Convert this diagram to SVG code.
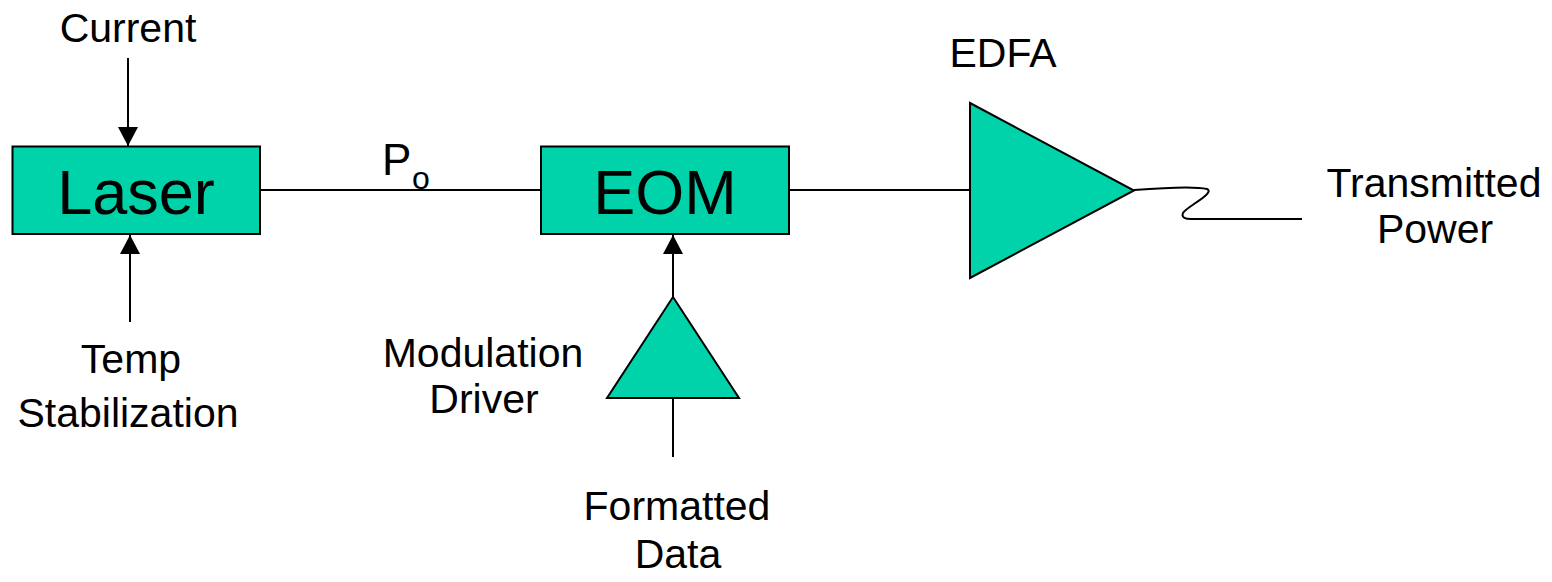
<svg xmlns="http://www.w3.org/2000/svg" width="1552" height="582" viewBox="0 0 1552 582">
  <style>
    .box { fill: #00D2AA; stroke: #000; stroke-width: 2; }
    .wire { fill: none; stroke: #000; stroke-width: 2; }
    .lbl { font-family: "Liberation Sans", Arial, sans-serif; font-size: 41px; fill: #000; text-anchor: middle; }
    .big { font-family: "Liberation Sans", Arial, sans-serif; font-size: 63px; fill: #000; text-anchor: middle; }
  </style>
  <defs>
    <marker id="arrow" markerUnits="userSpaceOnUse" markerWidth="20" markerHeight="20" refX="19" refY="10" orient="auto">
      <path d="M0,0 L19,10 L0,20 Z" fill="#000"/>
    </marker>
  </defs>

  <rect width="1552" height="582" fill="#fff"/>

  <!-- connectors -->
  <g id="connectors">
    <line class="wire" x1="128" y1="58" x2="128" y2="146" marker-end="url(#arrow)"/>
    <line class="wire" x1="130" y1="322" x2="130" y2="235" marker-end="url(#arrow)"/>
    <line class="wire" x1="260" y1="190" x2="541" y2="190"/>
    <line class="wire" x1="789" y1="190" x2="970" y2="190"/>
    <line class="wire" x1="673" y1="297" x2="673" y2="235" marker-end="url(#arrow)"/>
    <line class="wire" x1="673" y1="398" x2="673" y2="457"/>
    <path class="wire" d="M1134,190 C1160,188 1195,186 1207,189 C1216,193 1186,207 1183,213 C1181,218 1186,219 1191,219 L1302,219"/>
  </g>

  <!-- laser source -->
  <g id="laser">
    <rect class="box" x="12.5" y="146.5" width="247.5" height="87.5"/>
    <text class="big" x="136" y="214">Laser</text>
  </g>

  <!-- electro-optic modulator -->
  <g id="eom">
    <rect class="box" x="541" y="146.5" width="248" height="87.5"/>
    <text class="big" x="665" y="214">EOM</text>
  </g>

  <!-- modulation driver amplifier -->
  <g id="driver">
    <polygon class="box" points="673,297 739,398 607,398"/>
  </g>

  <!-- erbium-doped fiber amplifier -->
  <g id="edfa">
    <polygon class="box" points="970,103 1134,190.5 970,278"/>
    <text class="lbl" x="1003" y="67">EDFA</text>
  </g>

  <!-- labels -->
  <g id="label-current"><text class="lbl" x="128" y="42">Current</text></g>
  <g id="label-temp">
    <text class="lbl" x="131" y="373">Temp</text>
    <text class="lbl" x="128" y="427">Stabilization</text>
  </g>
  <g id="label-po">
    <text font-family="Liberation Sans, Arial, sans-serif" font-size="44" x="382" y="175">P</text>
    <text font-family="Liberation Sans, Arial, sans-serif" font-size="32" x="412" y="189">o</text>
  </g>
  <g id="label-driver">
    <text class="lbl" x="483" y="367">Modulation</text>
    <text class="lbl" x="484" y="413">Driver</text>
  </g>
  <g id="label-data">
    <text class="lbl" x="677" y="520">Formatted</text>
    <text class="lbl" x="678" y="568">Data</text>
  </g>
  <g id="label-output">
    <text class="lbl" x="1434" y="197">Transmitted</text>
    <text class="lbl" x="1435" y="243">Power</text>
  </g>
</svg>
